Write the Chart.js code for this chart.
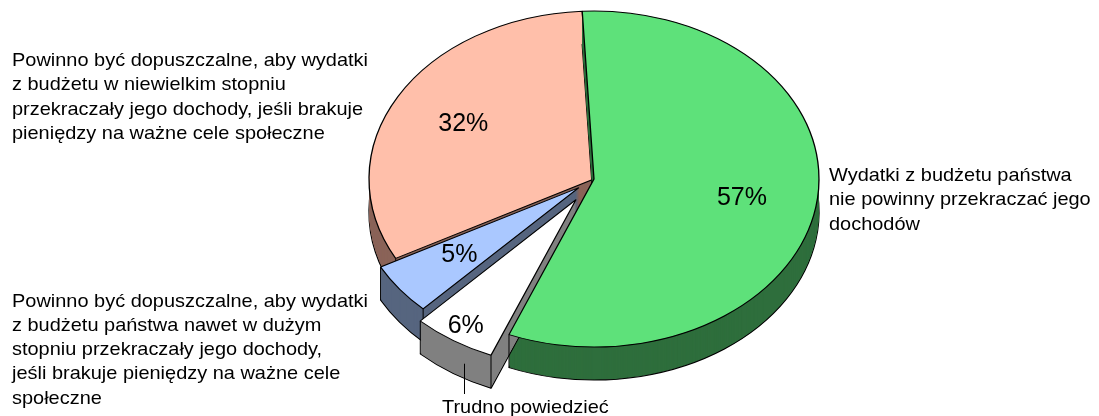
<!DOCTYPE html>
<html>
<head>
<meta charset="utf-8">
<script src="https://cdn.jsdelivr.net/npm/chart.js@4/dist/chart.umd.min.js"></script>
<style>
  html, body { margin: 0; padding: 0; background: #fff; }
  #wrap { position: relative; width: 1099px; height: 416px; overflow: hidden; }
  #pie { position: absolute; left: 0; top: 0; }
  .lbl {
    position: absolute;
    font-family: 'Liberation Sans', Arial, sans-serif;
    font-size: 19px;
    line-height: 24.3px;
    color: #000;
    white-space: pre;
    transform: scaleX(1.05);
    transform-origin: 0 0;
  }
</style>
</head>
<body>
<div id="wrap">
  <canvas id="pie" width="1099" height="416"></canvas>
</div>
<script>
// dane
const categories = [
  'Wydatki z budżetu państwa\nnie powinny przekraczać jego\ndochodów',
  'Trudno powiedzieć',
  'Powinno być dopuszczalne, aby wydatki\nz budżetu państwa nawet w dużym\nstopniu przekraczały jego dochody,\njeśli brakuje pieniędzy na ważne cele\nspołeczne',
  'Powinno być dopuszczalne, aby wydatki\nz budżetu w niewielkim stopniu\nprzekraczały jego dochody, jeśli brakuje\npieniędzy na ważne cele społeczne'
];
const values = [57, 6, 5, 32];

// wygląd
const topColors = ['#5ee17a', '#ffffff', '#aac8ff', '#ffbfaa'];
const sideColors = ['#2e6e3c', '#808080', '#56657f', '#8a6358'];
const explode = [0, 33, 19, 0];
const labelRadius = [0.667, 0.9, 0.667, 0.667];
// kolejność malowania: [indeks, część]
const drawSteps = [[3, 'side'], [3, 'top'], [2, 'side'], [2, 'top'], [0, 'side'], [1, 'side'], [1, 'top'], [0, 'top']];
const labelBoxes = [
  { left: 829, top: 163 },
  { left: 442, top: 394.6 },
  { left: 12, top: 288.5 },
  { left: 12, top: 48 }
];
const FLAT = 0.747;
const DEPTH = 33;

const wrap = document.getElementById('wrap');
categories.forEach((txt, i) => {
  const d = document.createElement('div');
  d.className = 'lbl';
  d.textContent = txt;
  d.style.left = labelBoxes[i].left + 'px';
  d.style.top = labelBoxes[i].top + 'px';
  wrap.appendChild(d);
});

const pie3d = {
  id: 'pie3d',
  beforeDatasetsDraw(chart) {
    const ctx = chart.ctx;
    const arcs = chart.getDatasetMeta(0).data;
    const cx = arcs[0].x, cy = arcs[0].y;

    // przejście do spłaszczonej płaszczyzny dysku, d = obniżenie w pikselach ekranu
    const place = (dx, dy, d) => {
      ctx.translate(cx, cy + d);
      ctx.scale(1, FLAT);
      ctx.translate(-cx + dx, -cy + dy);
    };
    const toScreen = (a, r, ox, oy) => [
      cx + ox + Math.cos(a) * r,
      cy + (oy + Math.sin(a) * r) * FLAT
    ];
    const shift = i => {
      const arc = arcs[i];
      const mid = (arc.startAngle + arc.endAngle) / 2;
      return [Math.cos(mid) * explode[i], Math.sin(mid) * explode[i]];
    };

    drawSteps.forEach(([i, part]) => {
      const arc = arcs[i];
      const [ox, oy] = shift(i);
      const saved = arc.options;

      if (part === 'side') {
        for (let d = DEPTH; d >= 1; d--) {
          ctx.save();
          place(ox, oy, d);
          arc.options = Object.assign({}, saved, {
            backgroundColor: sideColors[i],
            borderColor: '#000',
            borderWidth: d === DEPTH ? 1.3 : 0
          });
          arc.draw(ctx);
          ctx.restore();
        }
        arc.options = saved;
        return;
      }

      ctx.save();
      place(ox, oy, 0);
      arc.draw(ctx);
      ctx.restore();

      // pionowe krawędzie na obwodzie
      ctx.save();
      ctx.strokeStyle = '#000';
      ctx.lineWidth = 1;
      ctx.beginPath();
      [arc.startAngle, arc.endAngle].forEach(a => {
        if (Math.sin(a) > -0.2) {
          const [x, y] = toScreen(a, arc.outerRadius, ox, oy);
          ctx.moveTo(x, y);
          ctx.lineTo(x, y + DEPTH);
        }
      });
      ctx.stroke();
      ctx.restore();
    });

    // linia odniesienia dla "Trudno powiedzieć"
    {
      const arc = arcs[1];
      const [ox, oy] = shift(1);
      const a = arc.startAngle + 0.35 * (arc.endAngle - arc.startAngle);
      const [x, y] = toScreen(a, arc.outerRadius, ox, oy);
      ctx.save();
      ctx.strokeStyle = '#000';
      ctx.lineWidth = 1;
      ctx.beginPath();
      ctx.moveTo(Math.round(x) + 0.5, y + DEPTH * 0.55);
      ctx.lineTo(Math.round(x) + 0.5, 394);
      ctx.stroke();
      ctx.restore();
    }

    // etykiety procentowe
    const total = values.reduce((s, v) => s + v, 0);
    ctx.save();
    ctx.font = "25px 'Liberation Sans', Arial, sans-serif";
    ctx.fillStyle = '#000';
    ctx.textAlign = 'center';
    ctx.textBaseline = 'middle';
    arcs.forEach((arc, i) => {
      const mid = (arc.startAngle + arc.endAngle) / 2;
      const r = arc.outerRadius * labelRadius[i] + explode[i];
      const [x, y] = toScreen(mid, r, 0, 0);
      ctx.fillText(Math.round(values[i] / total * 100) + '%', x, y);
    });
    ctx.restore();
    return false;
  }
};

new Chart(document.getElementById('pie'), {
  type: 'pie',
  data: {
    labels: categories,
    datasets: [{
      data: values,
      backgroundColor: topColors,
      borderColor: '#000',
      borderWidth: 1.3
    }]
  },
  options: {
    responsive: false,
    animation: false,
    radius: 225,
    rotation: -3,
    layout: { padding: { left: 89, right: 0, top: 0, bottom: 58 } },
    plugins: {
      legend: { display: false },
      tooltip: { enabled: false }
    }
  },
  plugins: [pie3d]
});
</script>
</body>
</html>
